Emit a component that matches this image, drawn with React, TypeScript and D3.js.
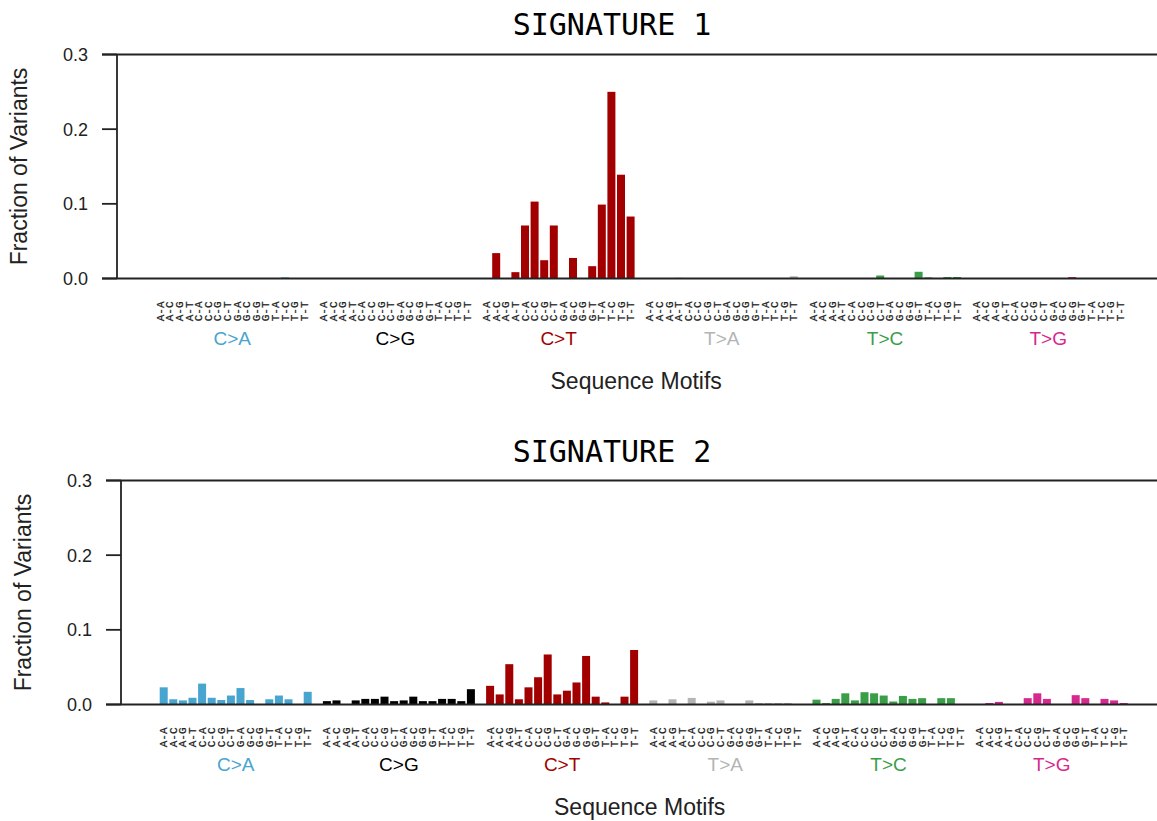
import React from "react";
import * as d3 from "d3";

const contexts = ["A-A","A-C","A-G","A-T","C-A","C-C","C-G","C-T","G-A","G-C","G-G","G-T","T-A","T-C","T-G","T-T"];
const mutationTypes = ["C>A","C>G","C>T","T>A","T>C","T>G"];
const typeColors = ["#47A5CF","#000000","#A20000","#B4B4B4","#3A9E49","#D6288E"];
const yTicks = [0, 0.1, 0.2, 0.3];
const titles = ["SIGNATURE 1", "SIGNATURE 2"];

// Signature 1
const sig1CA = [0,0,0,0,0,0,0,0,0,0,0,0,0,0.0015,0,0];
const sig1CG = [0,0,0,0,0,0,0,0,0,0,0,0,0,0,0,0];
const sig1CT = [0,0.034,0,0.0085,0.071,0.103,0.0245,0.071,0,0.0275,0,0.0165,0.099,0.25,0.139,0.083];
const sig1TA = [0,0,0,0.001,0,0,0,0,0,0,0,0,0,0,0,0.003];
const sig1TC = [0,0,0,0,0,0,0,0.004,0,0,0,0.009,0.0015,0,0.002,0.002];
const sig1TG = [0,0,0,0,0,0,0,0,0,0,0.002,0,0,0,0,0];

// Signature 2
const sig2CA = [0.023,0.007,0.0055,0.009,0.028,0.009,0.006,0.012,0.022,0.006,0,0.007,0.012,0.007,0,0.017];
const sig2CG = [0.0045,0.0055,0,0.0055,0.0075,0.0075,0.0105,0.0045,0.0055,0.0105,0.0045,0.0045,0.0075,0.0075,0.0045,0.0205];
const sig2CT = [0.025,0.0135,0.054,0.007,0.023,0.0365,0.067,0.0135,0.0185,0.0295,0.065,0.0105,0.0028,0,0.0105,0.073];
const sig2TA = [0.0055,0,0.007,0,0.0088,0,0.0038,0.0055,0,0,0.0055,0.002,0.002,0.002,0.002,0];
const sig2TC = [0.0065,0.002,0.0075,0.015,0.0055,0.0165,0.015,0.012,0.004,0.0115,0.0075,0.0085,0,0.0085,0.0085,0];
const sig2TG = [0,0.002,0.0035,0,0,0.0085,0.015,0.0075,0,0,0.0125,0.0085,0,0.0075,0.0055,0.002];

const signatureValues = [
  [sig1CA, sig1CG, sig1CT, sig1TA, sig1TC, sig1TG],
  [sig2CA, sig2CG, sig2CT, sig2TA, sig2TC, sig2TG],
];

const W = 1157;
const H = 821;
const STEP = 9.6;
const BAR_W = 8;
const SLOTS_PER_GROUP = 17;

const panelLayout = [
  { axisX: 117, y0: 278.5, y3: 54.5, slot0: 160.2, titleY: 35 },
  { axisX: 121, y0: 704.5, y3: 480.5, slot0: 163.7, titleY: 462 },
];

const sansFont = "'Liberation Sans', Arial, Helvetica, sans-serif";
const monoFont = "'Liberation Mono', 'Courier New', monospace";

function Panel({ idx }: { idx: number }) {
  const L = panelLayout[idx];
  const values = signatureValues[idx];
  const y = d3.scaleLinear().domain([0, 0.3]).range([L.y0, L.y3]);
  const nSlots = mutationTypes.length * SLOTS_PER_GROUP - 1;
  const x = d3.scaleLinear().domain([0, nSlots - 1]).range([L.slot0, L.slot0 + (nSlots - 1) * STEP]);
  const tickLeft = L.axisX - 15;
  const midY = (L.y0 + L.y3) / 2;
  return (
    <g>
      <text x={612} y={L.titleY} textAnchor="middle" fontFamily="'DejaVu Sans Mono', monospace" fontSize={30} fill="#000">
        {titles[idx]}
      </text>
      {values.map((arr, g) =>
        arr.map((v, i) => {
          const slot = g * SLOTS_PER_GROUP + i;
          if (v <= 0) return null;
          return (
            <rect
              key={`b${g}-${i}`}
              x={x(slot) - BAR_W / 2}
              y={y(v)}
              width={BAR_W}
              height={y(0) - y(v)}
              fill={typeColors[g]}
            />
          );
        })
      )}
      <line x1={tickLeft} x2={W} y1={y(0.3)} y2={y(0.3)} stroke="#222" strokeWidth={1.8} />
      <line x1={tickLeft} x2={W} y1={y(0)} y2={y(0)} stroke="#222" strokeWidth={1.8} />
      <line x1={L.axisX} x2={L.axisX} y1={y(0.3)} y2={y(0)} stroke="#222" strokeWidth={1.8} />
      {yTicks.map((t) => (
        <g key={`t${t}`}>
          <line x1={tickLeft} x2={L.axisX} y1={y(t)} y2={y(t)} stroke="#222" strokeWidth={1.8} />
          <text x={L.axisX - 29} y={y(t)} dy="0.36em" textAnchor="end" fontFamily={sansFont} fontSize={18} fill="#222">
            {d3.format(".1f")(t)}
          </text>
        </g>
      ))}
      <text
        transform={`translate(${L.axisX - 90},${midY}) rotate(-90)`}
        textAnchor="middle"
        fontFamily={sansFont}
        fontSize={23}
        fill="#222"
      >
        Fraction of Variants
      </text>
      {mutationTypes.map((m, g) =>
        contexts.map((c, i) => {
          const cx = x(g * SLOTS_PER_GROUP + i);
          const ty = L.y0 + 23;
          return (
            <text
              key={`l${g}-${i}`}
              transform={`translate(${cx},${ty}) rotate(-90)`}
              dy="0.32em"
              textAnchor="end"
              fontFamily={monoFont}
              fontSize={11}
              fill="#222"
              stroke="#222"
              strokeWidth={0.25}
            >
              {c}
            </text>
          );
        })
      )}
      {mutationTypes.map((m, g) => (
        <text
          key={`g${g}`}
          x={x(g * SLOTS_PER_GROUP + 7.5)}
          y={L.y0 + 66.5}
          textAnchor="middle"
          fontFamily={sansFont}
          fontSize={19}
          fill={typeColors[g]}
        >
          {m}
        </text>
      ))}
      <text
        x={x((nSlots - 1) / 2) - 4}
        y={L.y0 + 110}
        textAnchor="middle"
        fontFamily={sansFont}
        fontSize={23}
        fill="#222"
      >
        Sequence Motifs
      </text>
    </g>
  );
}

export default function App() {
  return (
    <svg
      width={W}
      height={H}
      viewBox={`0 0 ${W} ${H}`}
      style={{ position: "absolute", left: 0, top: 0, background: "#fff" }}
    >
      <rect x={0} y={0} width={W} height={H} fill="#fff" />
      <Panel idx={0} />
      <Panel idx={1} />
    </svg>
  );
}
